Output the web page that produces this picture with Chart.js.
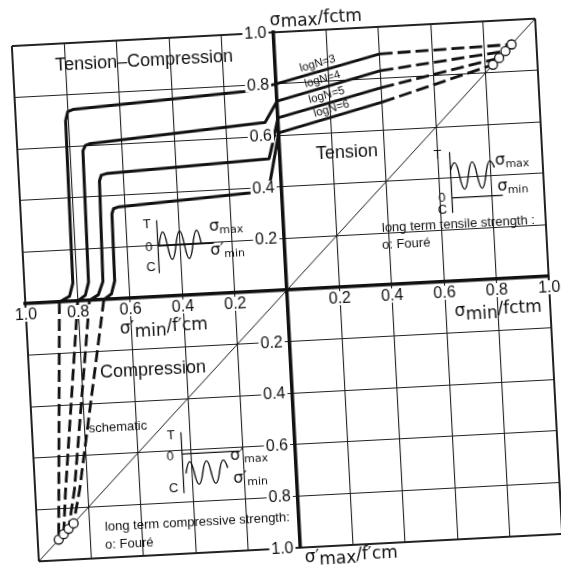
<!DOCTYPE html>
<html lang="en">
<head>
  <meta charset="UTF-8" />
  <title>Fatigue diagram for concrete, tension - compression</title>
  <script src="https://cdn.jsdelivr.net/npm/chart.js"></script>
  <style>
    html, body { margin: 0; padding: 0; background: #fff; overflow: hidden; }
    /* the scanned figure sits slightly askew on the page */
    #chart { position: absolute; left: 0; top: 0;
      transform: rotate(-3deg); transform-origin: 287px 290px; }
  </style>
</head>
<body>
  <canvas id="chart" width="561" height="573"></canvas>

  <script>
    /* x < 0 : sigma'min/f'cm (compression), x > 0 : sigma_min/fctm (tension)
       y > 0 : sigma_max/fctm,              y < 0 : sigma'max/f'cm           */
    const logN = [3, 4, 5, 6];

    // solid lines: tension-compression field + tension field
    const solidN3 = [[-0.87, 0], [-0.83, 0.02], [-0.815, 0.07], [-0.81, 0.70], [-0.80, 0.735], [-0.78, 0.742], [-0.12, 0.777], [0, 0.80], [0.40, 0.895]];
    const solidN4 = [[-0.80, 0], [-0.77, 0.02], [-0.755, 0.07], [-0.75, 0.58], [-0.74, 0.60], [-0.72, 0.607], [-0.05, 0.653], [0, 0.733], [0.40, 0.83]];
    const solidN5 = [[-0.755, 0], [-0.72, 0.02], [-0.70, 0.07], [-0.693, 0.46], [-0.685, 0.482], [-0.665, 0.487], [-0.042, 0.512], [-0.027, 0.565], [0, 0.668], [0.40, 0.764]];
    const solidN6 = [[-0.70, 0], [-0.67, 0.02], [-0.655, 0.07], [-0.652, 0.33], [-0.645, 0.35], [-0.625, 0.356], [-0.114, 0.384], [-0.042, 0.425], [0, 0.61], [0.40, 0.708]];

    // dashed continuation in tension, up to long term tensile strength
    const tensN3 = [[0.40, 0.895], [0.905, 0.905]];
    const tensN4 = [[0.40, 0.83], [0.88, 0.88]];
    const tensN5 = [[0.40, 0.764], [0.855, 0.855]];
    const tensN6 = [[0.40, 0.708], [0.83, 0.83]];

    // dashed (schematic) lines in compression
    const compN3 = [[-0.87, 0], [-0.92, -0.92]];
    const compN4 = [[-0.80, 0], [-0.885, -0.74], [-0.90, -0.90]];
    const compN5 = [[-0.755, 0], [-0.85, -0.73], [-0.88, -0.88]];
    const compN6 = [[-0.70, 0], [-0.83, -0.73], [-0.86, -0.86]];

    // long term strength, Fouré (on the diagonal)
    const foureTension = [0.905, 0.88, 0.855, 0.83];
    const foureCompression = [-0.92, -0.90, -0.88, -0.86];
    const diagonal = [-1, 1];

    // little load-history sketches: extremes of the wave (+1 up, -1 down)
    const waveTC = [0, 1, -1, 1, -1, 1, 0];
    const waveT = [0.45, 1, -1, 1, -1, 1, 0.5];
    const waveC = [0, 1, -1, 1, -1, 1, 0.3];

    const INK = "#111";
    const SANS = "'Liberation Sans', Arial, sans-serif";
    const GREEK = "'DejaVu Sans', sans-serif";

    const toXY = (pts) => pts.map(([x, y]) => ({ x, y }));
    const solid = [solidN3, solidN4, solidN5, solidN6];
    const tens = [tensN3, tensN4, tensN5, tensN6];
    const comp = [compN3, compN4, compN5, compN6];

    const datasets = [];
    // circles first so they are drawn on top
    [foureTension, foureCompression].forEach((arr, k) => {
      datasets.push({
        label: k ? "Fouré compression" : "Fouré tension",
        data: arr.map((v) => ({ x: v, y: v })),
        showLine: false,
        pointRadius: 4.5,
        pointBackgroundColor: "#fff",
        pointBorderColor: INK,
        pointBorderWidth: 1.3,
      });
    });
    logN.forEach((n, i) => {
      datasets.push({
        label: "logN=" + n,
        data: toXY(solid[i]),
        showLine: true,
        borderColor: INK,
        borderWidth: 3,
        borderJoinStyle: "round",
        pointRadius: 0,
      });
      datasets.push({
        label: "logN=" + n + " tension",
        data: toXY(tens[i]),
        showLine: true,
        borderColor: INK,
        borderWidth: 2.8,
        borderDash: [13, 5],
        pointRadius: 0,
      });
      datasets.push({
        label: "logN=" + n + " compression",
        data: toXY(comp[i]),
        showLine: true,
        borderColor: INK,
        borderWidth: 2.8,
        borderDash: [12, 5],
        pointRadius: 0,
      });
    });
    datasets.push({
      label: "diagonal",
      data: diagonal.map((v) => ({ x: v, y: v })),
      showLine: true,
      borderColor: INK,
      borderWidth: 1,
      pointRadius: 0,
    });

    /* small helpers for the texts and sketches */
    function sigma(ctx, px, py, prime, sub, rest, size, subSize, drop) {
      ctx.textAlign = "left";
      ctx.textBaseline = "alphabetic";
      const put = (s, font, dy) => {
        ctx.font = font;
        ctx.fillText(s, px, py + dy);
        px += ctx.measureText(s).width;
      };
      put("σ", size + "px " + GREEK, 0);
      if (prime) put("′", size + "px " + GREEK, 0);
      put(sub, subSize + "px " + GREEK, drop);
      if (rest) put(rest, size + "px " + GREEK, 0);
    }

    function wave(ctx, ox, oy, levels, startX, q, mid, amp) {
      let x = ox + startX;
      let y = oy + mid - levels[0] * amp;
      ctx.beginPath();
      ctx.moveTo(x, y);
      for (let i = 1; i < levels.length; i++) {
        const step = i === 1 || i === levels.length - 1 ? q : 2 * q;
        const nx = x + step;
        const ny = oy + mid - levels[i] * amp;
        if (i === 1) ctx.quadraticCurveTo(x + step * 0.55, ny, nx, ny);
        else if (i === levels.length - 1) ctx.quadraticCurveTo(x + step * 0.45, y, nx, ny);
        else ctx.bezierCurveTo(x + step / 2, y, nx - step / 2, ny, nx, ny);
        x = nx;
        y = ny;
      }
      ctx.stroke();
    }

    function sketch(ctx, ox, oy, s) {
      ctx.lineWidth = 1.2;
      ctx.beginPath();
      ctx.moveTo(ox, oy + s.axis[0]);
      ctx.lineTo(ox, oy + s.axis[1]);
      ctx.moveTo(ox, oy);
      ctx.lineTo(ox + s.zero, oy);
      ctx.stroke();
      ctx.lineWidth = 1.4;
      wave(ctx, ox, oy, s.levels, s.startX, s.q, s.mid, s.amp);
      ctx.font = "13px " + SANS;
      ctx.textAlign = "center";
      ctx.textBaseline = "middle";
      ctx.fillText("T", ox + s.T[0], oy + s.T[1]);
      ctx.fillText("0", ox + s.O[0], oy + s.O[1]);
      ctx.fillText("C", ox + s.C[0], oy + s.C[1]);
      s.labels.forEach(([prime, sub, dx, dy]) =>
        sigma(ctx, ox + dx, oy + dy, prime, sub, "", 16, 11, 3));
    }

    const annotations = {
      id: "annotations",
      afterDraw(chart) {
        const { ctx, scales: { x, y } } = chart;
        const P = (cx, cy) => [x.getPixelForValue(cx), y.getPixelForValue(cy)];
        const x0 = x.getPixelForValue(0);
        const y0 = y.getPixelForValue(0);
        ctx.save();
        ctx.fillStyle = INK;
        ctx.strokeStyle = INK;

        // tick labels sit in gaps of the grid lines
        ctx.font = "16px " + SANS;
        ctx.textBaseline = "middle";
        y.ticks.forEach((t) => {
          if (Math.abs(t.value) < 1e-6) return;
          const s = Math.abs(t.value).toFixed(1);
          const py = y.getPixelForValue(t.value);
          const w = ctx.measureText(s).width;
          ctx.fillStyle = "#fff";
          ctx.fillRect(x0 - 7 - w - 2, py - 7, w + 4, 14);
          ctx.fillStyle = INK;
          ctx.textAlign = "right";
          ctx.fillText(s, x0 - 7, py + 0.5);
        });
        x.ticks.forEach((t) => {
          if (Math.abs(t.value) < 1e-6) return;
          const s = Math.abs(t.value).toFixed(1);
          const px = x.getPixelForValue(t.value);
          const w = ctx.measureText(s).width;
          ctx.fillStyle = "#fff";
          ctx.fillRect(px - w / 2 - 2, y0 + 4, w + 4, 14);
          ctx.fillStyle = INK;
          ctx.textAlign = "center";
          ctx.fillText(s, px, y0 + 11.5);
        });

        // field names and notes
        const text = (s, cx, cy, size, align, rot) => {
          const [px, py] = P(cx, cy);
          ctx.save();
          ctx.translate(px, py);
          if (rot) ctx.rotate((rot * Math.PI) / 180);
          ctx.font = size + "px " + SANS;
          ctx.textAlign = align || "center";
          ctx.textBaseline = "middle";
          ctx.fillText(s, 0, 0);
          ctx.restore();
        };
        text("Tension–Compression", -0.499, 0.915, 18);
        text("Tension", 0.256, 0.518, 18);
        text("Compression", -0.527, -0.283, 18);
        text("schematic", -0.672, -0.496, 13);
        text("long term tensile strength :", 0.374, 0.221, 13, "left");
        text("o: Fouré", 0.371, 0.155, 13, "left");
        text("long term compressive strength:", -0.741, -0.881, 13, "left");
        text("o: Fouré", -0.744, -0.95, 13, "left");

        const logPos = [[0.162, 0.87], [0.177, 0.808], [0.19, 0.746], [0.206, 0.692]];
        logN.forEach((n, i) => text("logN=" + n, logPos[i][0], logPos[i][1], 11.5, "center", -13));

        // axis titles
        let p = P(-0.012, 1.029);
        sigma(ctx, p[0], p[1], false, "max", "/fctm", 17, 17, 2);
        p = P(0.635, -0.135);
        sigma(ctx, p[0], p[1], false, "min", "/fctm", 17, 17, 4);
        p = P(-0.645, -0.137);
        sigma(ctx, p[0], p[1], true, "min", "/f′cm", 17, 17, 4);
        p = P(0.014, -1.06);
        sigma(ctx, p[0], p[1], true, "max", "/f′cm", 17, 17, 3);

        // load-history sketches
        p = P(-0.483, 0.196);
        sketch(ctx, p[0], p[1], {
          axis: [-26, 27], zero: 56, levels: waveTC, startX: 1, q: 4.25, mid: 0, amp: 14,
          T: [-10, -22], O: [-9, 1], C: [-8, 21],
          labels: [[false, "max", 52, -12], [true, "min", 52, 12]],
        });
        p = P(0.647, 0.323);
        sketch(ctx, p[0], p[1], {
          axis: [-46, 15], zero: 51, levels: waveT, startX: 0, q: 4.4, mid: -21.5, amp: 13.5,
          T: [-12, -43], O: [-10, 0], C: [-10, 12],
          labels: [[false, "max", 45, -31], [false, "min", 46, -5]],
        });
        p = P(-0.433, -0.614);
        sketch(ctx, p[0], p[1], {
          axis: [-22, 39], zero: 58, levels: waveC, startX: 3, q: 4.2, mid: 19.5, amp: 11.5,
          T: [-10, -19], O: [-12, 2], C: [-10, 34],
          labels: [[true, "max", 48, 9], [true, "min", 50, 32]],
        });

        ctx.restore();
      },
    };

    const gridWidth = (c) => (Math.abs(Math.abs(c.tick.value) - 1) < 1e-6 ? 2 : 1.1);

    const chart = new Chart(document.getElementById("chart"), {
      type: "scatter",
      data: { datasets },
      options: {
        responsive: false,
        animation: false,
        events: [],
        layout: { padding: { left: 25, right: 12, top: 32, bottom: 25 } },
        plugins: { legend: { display: false }, tooltip: { enabled: false } },
        scales: {
          x: {
            type: "linear",
            min: -1,
            max: 1,
            position: { y: 0 },
            ticks: { stepSize: 0.2, display: false },
            grid: { color: "#222", lineWidth: gridWidth, drawTicks: false },
            border: { color: INK, width: 3.5 },
          },
          y: {
            type: "linear",
            min: -1,
            max: 1,
            position: { x: 0 },
            ticks: { stepSize: 0.2, display: false },
            grid: { color: "#222", lineWidth: gridWidth, drawTicks: false },
            border: { color: INK, width: 3.5 },
          },
        },
      },
      plugins: [annotations],
    });
  </script>
</body>
</html>
